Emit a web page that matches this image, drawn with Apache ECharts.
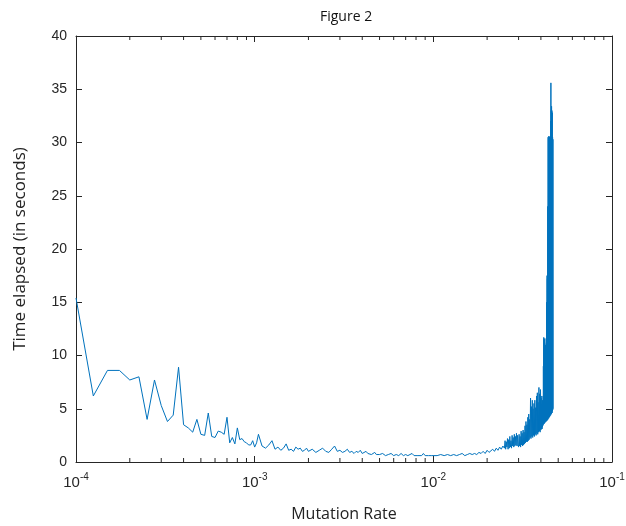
<!DOCTYPE html>
<html>
<head>
<meta charset="utf-8">
<script src="https://cdn.jsdelivr.net/npm/echarts@6/dist/echarts.min.js"></script>
<style>
  html, body { margin: 0; padding: 0; background: #fff; }
  #main { width: 626px; height: 526px; }
</style>
</head>
<body>
<div id="main"></div>
<script>
// low rates: big swings
const lowRates = [1.0e-4, 1.25e-4, 1.5e-4, 1.75e-4, 2.0e-4, 2.25e-4, 2.5e-4, 2.75e-4, 3.0e-4, 3.25e-4,
  3.5e-4, 3.75e-4, 4.0e-4, 4.25e-4, 4.5e-4, 4.75e-4, 5.0e-4, 5.25e-4, 5.5e-4, 5.75e-4,
  6.0e-4, 6.25e-4, 6.5e-4, 6.75e-4, 7.0e-4, 7.25e-4, 7.5e-4, 7.75e-4, 8.0e-4, 8.25e-4,
  8.5e-4, 8.75e-4, 9.0e-4, 9.25e-4, 9.5e-4, 9.75e-4, 1.0e-3, 1.025e-3, 1.05e-3]
const lowTimes = [15.4, 6.2, 8.6, 8.6, 7.7, 8.0, 4.0, 7.7, 5.3, 3.8,
  4.4, 8.9, 3.5, 3.2, 2.8, 4.0, 2.6, 2.5, 4.6, 2.4,
  2.3, 2.9, 2.8, 2.6, 4.2, 1.8, 2.3, 1.7, 3.2, 2.1,
  2.2, 1.9, 1.8, 1.6, 1.6, 2.0, 1.4, 1.8, 2.6]

// middle rates: flat, noisy floor
const midRates = [1.10e-3, 1.15e-3, 1.20e-3, 1.25e-3, 1.30e-3, 1.35e-3, 1.40e-3, 1.45e-3, 1.50e-3, 1.55e-3,
  1.60e-3, 1.65e-3, 1.70e-3, 1.75e-3, 1.80e-3, 1.85e-3, 1.90e-3, 1.95e-3, 2.0e-3,
  2.1e-3, 2.2e-3, 2.3e-3, 2.4e-3, 2.5e-3, 2.6e-3, 2.7e-3, 2.8e-3, 2.9e-3, 3.0e-3,
  3.1e-3, 3.2e-3, 3.3e-3, 3.4e-3, 3.5e-3, 3.6e-3, 3.7e-3, 3.8e-3, 3.9e-3, 4.0e-3,
  4.1e-3, 4.2e-3, 4.3e-3, 4.4e-3, 4.5e-3, 4.6e-3, 4.7e-3, 4.8e-3, 4.9e-3, 5.0e-3,
  5.2e-3, 5.4e-3, 5.6e-3, 5.8e-3, 6.0e-3, 6.2e-3, 6.4e-3, 6.6e-3, 6.8e-3, 7.0e-3,
  7.2e-3, 7.4e-3, 7.6e-3, 7.8e-3, 8.0e-3, 8.2e-3, 8.4e-3, 8.6e-3, 8.8e-3, 9.0e-3,
  9.2e-3, 9.4e-3, 9.6e-3, 9.8e-3, 1.0e-2]
const midTimes = [1.5, 1.3, 1.6, 2.0, 1.2, 1.4, 1.1, 1.3, 1.7, 1.1,
  1.2, 1.0, 1.4, 1.2, 1.3, 1.0, 1.1, 1.3, 1.0,
  1.2, 0.9, 1.1, 1.3, 1.0, 0.9, 1.2, 1.5, 1.0, 1.1,
  0.9, 1.0, 1.2, 0.9, 1.0, 0.8, 1.0, 0.9, 1.1, 0.8,
  0.9, 1.0, 0.8, 0.9, 0.7, 0.8, 0.9, 0.7, 0.8, 0.7,
  0.8, 0.6, 0.7, 0.8, 0.6, 0.7, 0.6, 0.8, 0.6, 0.7,
  0.6, 0.7, 0.8, 0.6, 0.7, 0.6, 0.7, 0.6, 0.8, 0.6,
  0.7, 0.6, 0.7, 0.6, 0.7]

// rising part
const riseRates = [0.0105, 0.011, 0.0115, 0.012, 0.0125, 0.013, 0.0135, 0.014, 0.0145, 0.015,
  0.0155, 0.016, 0.0165, 0.017, 0.0175, 0.018, 0.0185, 0.019, 0.0195, 0.020,
  0.0205, 0.021, 0.0215, 0.022, 0.0225, 0.023, 0.0235, 0.024, 0.0245]
const riseTimes = [0.6, 0.7, 0.6, 0.7, 0.6, 0.7, 0.6, 0.7, 0.8, 0.6,
  0.7, 0.8, 0.7, 0.8, 0.7, 0.9, 0.8, 1.0, 0.8, 1.1,
  0.9, 1.0, 1.2, 1.0, 1.3, 1.1, 1.4, 1.2, 1.5]

// dense oscillating band
const bandRates = [0.0250, 0.0252, 0.0254, 0.0256, 0.0258, 0.0260, 0.0262, 0.0264, 0.0266, 0.0268,
  0.0270, 0.0272, 0.0274, 0.0276, 0.0278, 0.0280, 0.0282, 0.0284, 0.0286, 0.0288,
  0.0290, 0.0292, 0.0294, 0.0296, 0.0298,
  0.0300, 0.0302, 0.0304, 0.0306, 0.0308, 0.0310, 0.0312, 0.0314, 0.0316, 0.0318,
  0.0320, 0.0322, 0.0324, 0.0326, 0.0328, 0.0330, 0.0332, 0.0334, 0.0336, 0.0338,
  0.0340, 0.0342, 0.0344, 0.0346, 0.0348, 0.0350, 0.0352, 0.0354, 0.0356, 0.0358,
  0.0360, 0.0362, 0.0364, 0.0366, 0.0368, 0.0370, 0.0372, 0.0374, 0.0376, 0.0378,
  0.0380, 0.0382, 0.0384, 0.0386, 0.0388, 0.0390, 0.0392, 0.0394, 0.0396, 0.0398]
const bandTimes = [1.3, 2.0, 1.2, 1.9, 1.4, 2.2, 1.2, 2.1, 1.3, 2.4,
  1.4, 2.0, 1.3, 2.5, 1.5, 2.3, 1.4, 2.6, 1.5, 2.4,
  1.6, 2.7, 1.5, 2.5, 1.6,
  1.4, 2.6, 1.5, 2.4, 1.4, 2.9, 1.6, 2.7, 1.5, 3.0,
  1.6, 2.8, 1.7, 3.4, 1.8, 3.8, 1.9, 3.5, 1.9, 4.2,
  2.0, 4.5, 2.1, 4.0, 2.3, 6.0, 2.2, 5.2, 2.4, 5.8,
  2.3, 5.0, 2.5, 5.5, 2.4, 5.8, 2.6, 5.1, 2.5, 6.2,
  2.7, 6.5, 2.6, 5.6, 2.8, 7.0, 2.9, 6.4, 2.8, 6.8]

// the spike, sampled more finely
const spikeRates = [0.0400, 0.0401, 0.0402, 0.0403, 0.0404, 0.0405, 0.0406, 0.0407, 0.0408, 0.0409,
  0.0410, 0.0411, 0.0412, 0.0413, 0.0414, 0.0415, 0.0416, 0.0417, 0.0418, 0.0419,
  0.0420, 0.0421, 0.0422, 0.0423, 0.0424, 0.0425, 0.0426, 0.0427, 0.0428, 0.0429,
  0.0430, 0.0431, 0.0432, 0.0433, 0.0434, 0.0435, 0.0436, 0.0437, 0.0438, 0.0439,
  0.0440, 0.0441, 0.0442, 0.0443, 0.0444, 0.0445, 0.0446, 0.0447, 0.0448, 0.0449,
  0.0450, 0.0451, 0.0452, 0.0453, 0.0454, 0.0455, 0.0456, 0.0457, 0.0458, 0.0459,
  0.0460, 0.0461, 0.0462, 0.0463, 0.0464, 0.0465, 0.0466, 0.0467, 0.0468]
const spikeTimes = [3.0, 6.0, 3.1, 5.4, 3.2, 6.2, 3.1, 5.0, 3.3, 5.8,
  3.4, 5.5, 3.5, 9.0, 3.6, 11.7, 3.7, 11.5, 3.6, 10.8,
  3.8, 11.6, 3.7, 9.5, 3.8, 11.0, 3.9, 10.5, 3.8, 11.2,
  3.9, 15.0, 4.0, 17.5, 3.9, 17.2, 4.1, 24.0, 4.0, 30.5,
  4.2, 30.3, 4.1, 30.6, 4.3, 30.4, 4.2, 30.5, 4.4, 30.3,
  4.3, 30.6, 4.5, 32.0, 4.4, 35.6, 4.6, 33.0, 4.5, 33.4,
  4.7, 33.0, 4.6, 32.8, 4.8, 30.5, 4.9, 30.3, 5.0]

// minor tick positions of the log axis
const minorTicks = [2e-4, 3e-4, 4e-4, 5e-4, 6e-4, 7e-4, 8e-4, 9e-4,
  2e-3, 3e-3, 4e-3, 5e-3, 6e-3, 7e-3, 8e-3, 9e-3,
  2e-2, 3e-2, 4e-2, 5e-2, 6e-2, 7e-2, 8e-2, 9e-2]

const rates = lowRates.concat(midRates, riseRates, bandRates, spikeRates)
const times = lowTimes.concat(midTimes, riseTimes, bandTimes, spikeTimes)
const lineData = rates.map((r, i) => [r, times[i]])

const axisColor = '#262626'
const tickFont = 'Liberation Sans, Arial, sans-serif'
const textFont = 'Open Sans, sans-serif'

const myChart = echarts.init(document.getElementById('main'))
const option = {
  animation: false,
  backgroundColor: '#fff',
  title: {
    text: 'Figure 2',
    left: 315,
    top: 5,
    textStyle: { fontFamily: textFont, fontSize: 14, fontWeight: 'normal', color: '#111' }
  },
  grid: { left: 76, right: 14, top: 36, bottom: 64, outerBoundsMode: 'none', containLabel: false },
  xAxis: [
    {
      type: 'log',
      logBase: 10,
      min: 1e-4,
      max: 1e-1,
      name: 'Mutation Rate',
      nameLocation: 'middle',
      nameGap: 44,
      nameTextStyle: { fontFamily: textFont, fontSize: 16, color: '#222' },
      axisLine: { onZero: false, lineStyle: { color: axisColor, width: 1 } },
      axisTick: { inside: true, length: 6, lineStyle: { color: axisColor } },
      splitLine: { show: false },
      axisLabel: {
        margin: 10,
        color: axisColor,
        formatter: function (v) {
          const e = Math.round(Math.log10(v))
          return '{b|10}{s|' + e + '}'
        },
        rich: {
          b: { fontFamily: tickFont, fontSize: 15, color: axisColor, verticalAlign: 'bottom' },
          s: { fontFamily: tickFont, fontSize: 10, color: axisColor, verticalAlign: 'top', padding: [0, 0, 8, 0] }
        }
      }
    },
    {
      type: 'log',
      logBase: 10,
      min: 1e-4,
      max: 1e-1,
      position: 'top',
      axisLine: { onZero: false, lineStyle: { color: axisColor, width: 1 } },
      axisTick: { inside: true, length: 6, lineStyle: { color: axisColor } },
      axisLabel: { show: false },
      splitLine: { show: false }
    }
  ],
  yAxis: [
    {
      type: 'value',
      min: 0,
      max: 40,
      interval: 5,
      name: 'Time elapsed (in seconds)',
      nameLocation: 'middle',
      nameGap: 47,
      nameTextStyle: { fontFamily: textFont, fontSize: 17, color: '#222' },
      axisLine: { show: true, lineStyle: { color: axisColor, width: 1 } },
      axisTick: { show: true, inside: true, length: 6, lineStyle: { color: axisColor } },
      axisLabel: { fontFamily: tickFont, fontSize: 14, color: axisColor, margin: 9 },
      splitLine: { show: false }
    },
    {
      type: 'value',
      min: 0,
      max: 40,
      interval: 5,
      position: 'right',
      axisLine: { show: true, lineStyle: { color: axisColor, width: 1 } },
      axisTick: { show: true, inside: true, length: 6, lineStyle: { color: axisColor } },
      axisLabel: { show: false },
      splitLine: { show: false }
    }
  ],
  series: [
    {
      name: 'time',
      type: 'line',
      data: lineData,
      showSymbol: false,
      symbol: 'none',
      sampling: 'none',
      lineStyle: { color: '#0072BD', width: 1 },
      z: 3
    },
    {
      // minor ticks on the log axis, bottom and top
      type: 'custom',
      silent: true,
      clip: false,
      data: minorTicks.map(v => [v, 20]),
      renderItem: function (params, api) {
        const v = api.value(0)
        const b = api.coord([v, 0])
        const t = api.coord([v, 40])
        const st = { stroke: axisColor, lineWidth: 1 }
        return {
          type: 'group',
          children: [
            { type: 'line', shape: { x1: b[0], y1: b[1], x2: b[0], y2: b[1] - 4 }, style: st },
            { type: 'line', shape: { x1: t[0], y1: t[1], x2: t[0], y2: t[1] + 4 }, style: st }
          ]
        }
      },
      z: 10
    }
  ]
}
option && myChart.setOption(option)
</script>
</body>
</html>
